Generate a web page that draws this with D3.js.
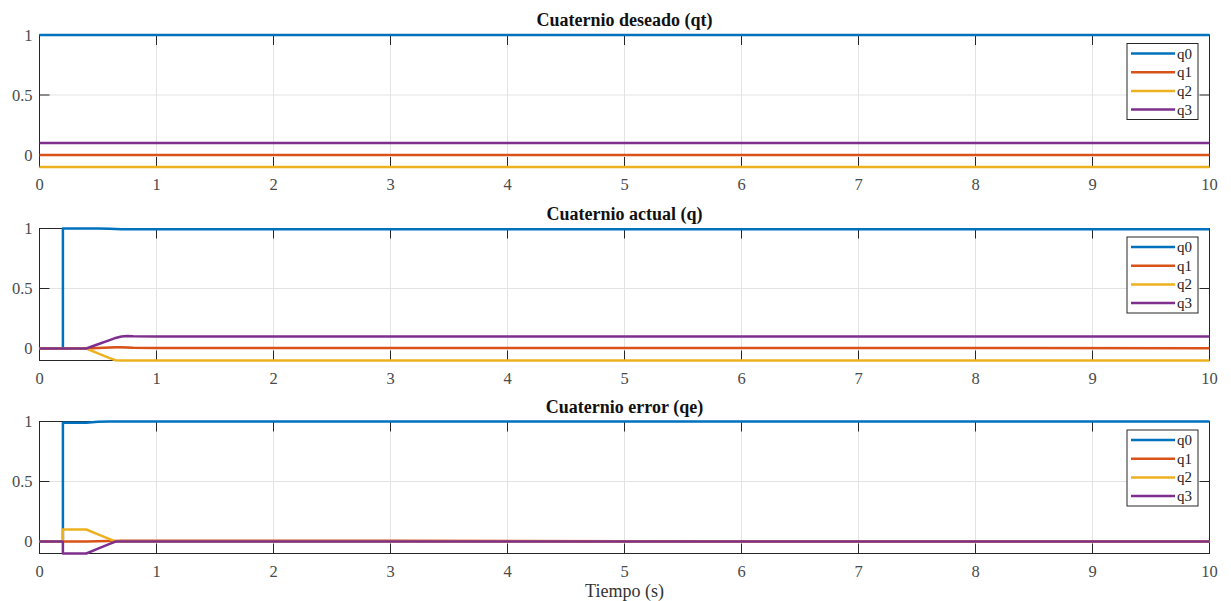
<!DOCTYPE html>
<html>
<head>
<meta charset="utf-8">
<script src="https://cdn.jsdelivr.net/npm/d3@7"></script>
<style>
  html, body { margin: 0; padding: 0; background: #fff; }
  svg { display: block; }
</style>
</head>
<body>
<svg id="chart" width="1231" height="601"></svg>
<script>
// Series names and colours
const seriesNames = ["q0", "q1", "q2", "q3"];
const seriesColors = ["#0072BD", "#D95319", "#EDB120", "#7E2F8E"];

// Axis ticks
const xTicks = [0, 1, 2, 3, 4, 5, 6, 7, 8, 9, 10];
const yTicks = [0, 0.5, 1];

// Panel titles
const titles = ["Cuaternio deseado (qt)", "Cuaternio actual (q)", "Cuaternio error (qe)"];
const xLabel = "Tiempo (s)";

// Desired quaternion (constant)
const tDeseado = [0, 10];
const q0Deseado = [1, 1];
const q1Deseado = [0, 0];
const q2Deseado = [-0.1, -0.1];
const q3Deseado = [0.1, 0.1];

// Actual quaternion
const tActual = [0, 0.2, 0.2, 0.4, 0.5, 0.6, 0.65, 0.7, 0.75, 0.8, 1, 10];
const q0Actual = [0, 0, 1, 1, 1, 0.998, 0.996, 0.994, 0.994, 0.994, 0.994, 0.994];
const q1Actual = [0, 0, 0, 0, 0.005, 0.009, 0.01, 0.01, 0.008, 0.006, 0.005, 0.003];
const q2Actual = [0, 0, 0, 0, -0.04, -0.08, -0.098, -0.1, -0.1, -0.1, -0.1, -0.1];
const q3Actual = [0, 0, 0, 0, 0.035, 0.07, 0.088, 0.1, 0.104, 0.102, 0.1, 0.1];

// Error quaternion
const tError = [0, 0.2, 0.2, 0.4, 0.5, 0.6, 0.65, 0.7, 1, 2, 3, 4, 5, 6, 10];
const q0Error = [0, 0, 0.99, 0.99, 0.997, 1, 1, 1, 1, 1, 1, 1, 1, 1, 1];
const q1Error = [0, 0, 0, 0, 0.002, 0.004, 0.005, 0.006, 0.007, 0.007, 0.006, 0.004, 0.002, 0, 0];
const q2Error = [0, 0, 0.1, 0.1, 0.06, 0.02, 0, 0, 0, 0, 0, 0, 0, 0, 0];
const q3Error = [0, 0, -0.1, -0.1, -0.06, -0.02, 0, 0, 0, 0, 0, 0, 0, 0, 0];

const panels = [
  { title: titles[0], t: tDeseado, q: [q0Deseado, q1Deseado, q2Deseado, q3Deseado], top: 35 },
  { title: titles[1], t: tActual, q: [q0Actual, q1Actual, q2Actual, q3Actual], top: 228.5 },
  { title: titles[2], t: tError, q: [q0Error, q1Error, q2Error, q3Error], top: 421.5 }
];

const svg = d3.select("#chart");
const left = 39.5, right = 1209.5;
const plotH = 132;           // from y = 1 down to y = -0.1
const font = "'Liberation Serif', 'Times New Roman', serif";
const axisColor = "#262626";
const labelColor = "#4a4a4a";
const tickLen = 10;

const x = d3.scaleLinear().domain([0, 10]).range([left, right]);

panels.forEach((p, i) => {
  const y = d3.scaleLinear().domain([-0.1, 1]).range([p.top + plotH, p.top]);
  const g = svg.append("g");

  // grid
  g.append("g").selectAll("line").data(xTicks).join("line")
    .attr("x1", d => x(d)).attr("x2", d => x(d))
    .attr("y1", y(-0.1)).attr("y2", y(1))
    .attr("stroke", "#e3e3e3").attr("stroke-width", 1);
  g.append("g").selectAll("line").data(yTicks).join("line")
    .attr("x1", left).attr("x2", right)
    .attr("y1", d => y(d)).attr("y2", d => y(d))
    .attr("stroke", "#e3e3e3").attr("stroke-width", 1);

  // inward ticks on all four sides
  const tk = g.append("g").attr("stroke", axisColor).attr("stroke-width", 1);
  xTicks.forEach(d => {
    tk.append("line").attr("x1", x(d)).attr("x2", x(d)).attr("y1", y(-0.1)).attr("y2", y(-0.1) - tickLen);
    tk.append("line").attr("x1", x(d)).attr("x2", x(d)).attr("y1", y(1)).attr("y2", y(1) + tickLen);
  });
  yTicks.forEach(d => {
    tk.append("line").attr("x1", left).attr("x2", left + tickLen).attr("y1", y(d)).attr("y2", y(d));
    tk.append("line").attr("x1", right).attr("x2", right - tickLen).attr("y1", y(d)).attr("y2", y(d));
  });

  // axes box
  g.append("rect")
    .attr("x", left).attr("y", y(1))
    .attr("width", right - left).attr("height", y(-0.1) - y(1))
    .attr("fill", "none").attr("stroke", axisColor).attr("stroke-width", 1);

  // series lines (drawn over the box so edge values stay visible)
  const line = d3.line().x(d => x(d[0])).y(d => y(d[1]));
  p.q.forEach((vals, k) => {
    const pts = p.t.map((t, j) => [t, vals[j]]);
    g.append("path").datum(pts)
      .attr("d", line)
      .attr("fill", "none")
      .attr("stroke", seriesColors[k])
      .attr("stroke-width", 2.5)
      .attr("stroke-linejoin", "round");
  });

  // tick labels
  g.append("g").selectAll("text").data(xTicks).join("text")
    .attr("x", d => x(d)).attr("y", y(-0.1) + 23)
    .attr("text-anchor", "middle")
    .attr("font-family", font).attr("font-size", 16.5).attr("fill", labelColor)
    .text(d => d);
  g.append("g").selectAll("text").data(yTicks).join("text")
    .attr("x", left - 7).attr("y", d => y(d) + 5.5)
    .attr("text-anchor", "end")
    .attr("font-family", font).attr("font-size", 16.5).attr("fill", labelColor)
    .text(d => d);

  // title
  g.append("text")
    .attr("x", (left + right) / 2).attr("y", p.top - 9)
    .attr("text-anchor", "middle")
    .attr("font-family", font).attr("font-size", 18).attr("font-weight", "bold")
    .attr("fill", "#111")
    .text(p.title);

  // legend
  const lx = 1127, ly = p.top + 8.5, lw = 71, lh = 76;
  const lg = g.append("g");
  lg.append("rect").attr("x", lx).attr("y", ly).attr("width", lw).attr("height", lh)
    .attr("fill", "#fff").attr("stroke", axisColor).attr("stroke-width", 1);
  seriesNames.forEach((n, k) => {
    const ry = ly + 10 + k * 18.7;
    lg.append("line").attr("x1", lx + 4).attr("x2", lx + 48)
      .attr("y1", ry).attr("y2", ry)
      .attr("stroke", seriesColors[k]).attr("stroke-width", 2.5);
    lg.append("text").attr("x", lx + 50).attr("y", ry + 5)
      .attr("font-family", font).attr("font-size", 15).attr("fill", "#222")
      .text(n);
  });
});

// x-axis label
svg.append("text")
  .attr("x", (left + right) / 2).attr("y", 597)
  .attr("text-anchor", "middle")
  .attr("font-family", font).attr("font-size", 18).attr("fill", "#333")
  .text(xLabel);
</script>
</body>
</html>
